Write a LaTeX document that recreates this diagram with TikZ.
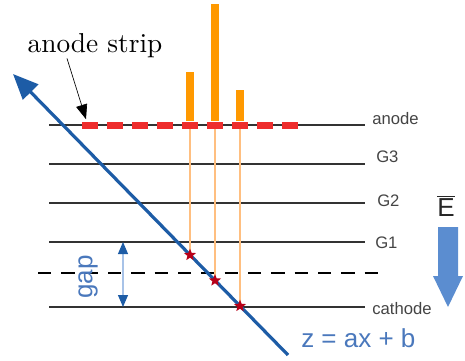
\documentclass[tikz,border=0pt]{standalone}
\usepackage{fontspec}
\usepackage{tikz}
\usetikzlibrary{arrows.meta,positioning,calc,shapes.geometric}
\newfontfamily\arial{Liberation Sans}
\definecolor{cTrack}{HTML}{1D5CA6}
\definecolor{cTxtBlue}{HTML}{4A78BC}
\definecolor{cGrid}{HTML}{333333}
\definecolor{cLbl}{HTML}{444444}
\definecolor{cStrip}{HTML}{EE2D2D}
\definecolor{cBar}{HTML}{FF9900}
\definecolor{cHit}{HTML}{FFBF80}
\definecolor{cStar}{HTML}{B80018}
\definecolor{cField}{HTML}{5B8DD0}
\definecolor{cGapLine}{HTML}{A8C3E8}
\tikzset{
  plane/.style={line width=1.1pt,color=cGrid},
  mesh/.style={line width=1.1pt,color=black,dash pattern=on 10pt off 7.5pt},
  lbl/.style={font=\arial\fontsize{12.5}{14}\selectfont,text=cLbl,anchor=west,inner sep=0pt},
  strip/.style={fill=cStrip,minimum width=12pt,minimum height=5.25pt,inner sep=0pt},
  bar/.style={fill=cBar,minimum width=6pt,inner sep=0pt,anchor=south},
  hit/.style={line width=0.8pt,color=cHit},
  track/.style={-{Triangle[length=19pt,width=16pt]},line width=2.4pt,color=cTrack},
  cross/.style={star,star points=5,star point ratio=2.3,fill=cStar,inner sep=0pt,minimum size=9.5pt},
  ptr/.style={-{Triangle[length=11pt,width=8.5pt]},line width=0.5pt,color=black},
  gaparr/.style={{Triangle[length=9pt,width=7.5pt,color=cTrack]}-{Triangle[length=9pt,width=7.5pt,color=cTrack]},line width=0.8pt,color=cGapLine},
  blue/.style={font=\arial\fontsize{19.5}{22}\selectfont,text=cTxtBlue,inner sep=0pt},
}
\begin{document}
\begin{tikzpicture}[x=0.75pt,y=-0.75pt]
    \useasboundingbox (0,0) rectangle (465,361);
    % electrode planes
    \foreach \y/\n in {125/anode,164/g3,203/g2,242/g1,307/cathode}{
      \coordinate (\n-l) at (49,\y); \coordinate (\n-r) at (365,\y);
      \draw[plane] (\n-l) -- (\n-r);
    }
    \coordinate (mesh-l) at (38,273); \coordinate (mesh-r) at (388,273);
    \draw[mesh] (mesh-l) -- (mesh-r);
    \node[lbl] (l-anode) at (372,119) {anode};
    \node[lbl] (l-g3) at (376,157) {G3};
    \node[lbl] (l-g2) at (377,201) {G2};
    \node[lbl] (l-g1) at (375,242.5) {G1};
    \node[lbl] (l-cathode) at (372,308.5) {cathode};
    % strips and signals
    \foreach \i in {1,...,9} \node[strip] (strip\i) at ({65+25*\i},125) {};
    \node[bar,minimum height=36.4pt] (sig1) at (strip5.north) {};
    \node[bar,minimum height=88pt] (sig2) at (strip6.north) {};
    \node[bar,minimum height=23.6pt] (sig3) at (strip7.north) {};
    \coordinate (h1) at (190,255); \coordinate (h2) at (215,280.5); \coordinate (h3) at (240,306);
    \draw[hit] (strip5) -- (h1); \draw[hit] (strip6) -- (h2); \draw[hit] (strip7) -- (h3);
    % track
    \coordinate (trk-s) at (288,355); \coordinate (trk-e) at (13,74);
    \draw[track] (trk-s) -- (trk-e);
    \node[cross] (c1) at (h1) {}; \node[cross] (c2) at (h2) {}; \node[cross] (c3) at (h3) {};
    \node[inner sep=0pt] (astrip) at (95,46) {\scalebox{2.05}{anode strip}};
    \draw[ptr] ([xshift=-21pt]astrip.south) -- ([xshift=-3pt,yshift=1.5pt]strip1.north);
    % gap
    \coordinate (gap-t) at (123,242); \coordinate (gap-b) at (123,307);
    \draw[gaparr] (gap-t) -- (gap-b);
    \node[blue,rotate=90] (gaplbl) at (88,277) {gap};
    \node[blue,anchor=west] (eq) at (301,338) {z = ax + b};
    % drift field
    \fill[cField] (438,227) -- (458,227) -- (458,276) -- (463,276) -- (448,307) -- (433,276) -- (438,276) -- cycle;
    \node[font=\arial\fontsize{19.5}{22}\selectfont,text=black!85,inner sep=0pt] (efield) at (446,206) {$\overline{\hbox{E}}$};
\end{tikzpicture}
\end{document}
